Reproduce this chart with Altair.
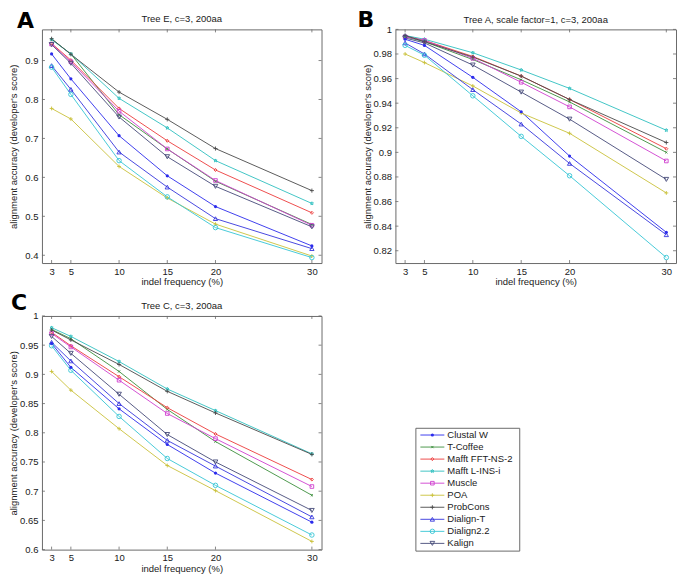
import math
import altair as alt
import pandas as pd

# ---------------- data ----------------
X_VALUES = [3, 5, 10, 15, 20, 30]
SERIES = ["Clustal W", "T-Coffee", "Mafft FFT-NS-2", "Mafft L-INS-i", "Muscle",
          "POA", "ProbCons", "Dialign-T", "Dialign2.2", "Kalign"]

TREE_E = {
    "Clustal W":      [0.917, 0.853, 0.707, 0.604, 0.525, 0.424],
    "T-Coffee":       [0.955, 0.917, 0.761, 0.673, 0.590, 0.479],
    "Mafft FFT-NS-2": [0.944, 0.901, 0.777, 0.694, 0.619, 0.509],
    "Mafft L-INS-i":  [0.954, 0.917, 0.803, 0.727, 0.643, 0.533],
    "Muscle":         [0.942, 0.897, 0.770, 0.673, 0.592, 0.477],
    "POA":            [0.777, 0.750, 0.628, 0.547, 0.480, 0.398],
    "ProbCons":       [0.956, 0.916, 0.819, 0.749, 0.674, 0.566],
    "Dialign-T":      [0.887, 0.826, 0.665, 0.575, 0.494, 0.417],
    "Dialign2.2":     [0.883, 0.813, 0.643, 0.550, 0.471, 0.394],
    "Kalign":         [0.941, 0.893, 0.755, 0.653, 0.577, 0.473],
}
TREE_A = {
    "Clustal W":      [0.992, 0.987, 0.961, 0.933, 0.897, 0.835],
    "T-Coffee":       [0.994, 0.990, 0.9755, 0.959, 0.941, 0.900],
    "Mafft FFT-NS-2": [0.995, 0.991, 0.978, 0.962, 0.943, 0.903],
    "Mafft L-INS-i":  [0.995, 0.992, 0.981, 0.967, 0.952, 0.918],
    "Muscle":         [0.994, 0.991, 0.9765, 0.957, 0.937, 0.893],
    "POA":            [0.980, 0.973, 0.954, 0.932, 0.9155, 0.867],
    "ProbCons":       [0.995, 0.990, 0.9775, 0.962, 0.943, 0.908],
    "Dialign-T":      [0.989, 0.980, 0.951, 0.923, 0.891, 0.833],
    "Dialign2.2":     [0.987, 0.979, 0.946, 0.913, 0.881, 0.8145],
    "Kalign":         [0.993, 0.989, 0.971, 0.949, 0.927, 0.878],
}
TREE_C = {
    "Clustal W":      [0.953, 0.912, 0.841, 0.780, 0.731, 0.647],
    "T-Coffee":       [0.977, 0.961, 0.905, 0.840, 0.785, 0.693],
    "Mafft FFT-NS-2": [0.972, 0.949, 0.896, 0.843, 0.798, 0.720],
    "Mafft L-INS-i":  [0.980, 0.965, 0.922, 0.875, 0.838, 0.764],
    "Muscle":         [0.970, 0.947, 0.890, 0.833, 0.790, 0.708],
    "POA":            [0.905, 0.873, 0.807, 0.744, 0.701, 0.614],
    "ProbCons":       [0.976, 0.959, 0.917, 0.871, 0.834, 0.763],
    "Dialign-T":      [0.955, 0.923, 0.850, 0.787, 0.743, 0.656],
    "Dialign2.2":     [0.949, 0.907, 0.828, 0.756, 0.710, 0.625],
    "Kalign":         [0.965, 0.936, 0.866, 0.797, 0.750, 0.667],
}

Y_TICKS_E = [0.4, 0.5, 0.6, 0.7, 0.8, 0.9]
Y_TICKS_A = [0.82, 0.84, 0.86, 0.88, 0.9, 0.92, 0.94, 0.96, 0.98, 1.0]
Y_TICKS_C = [0.6, 0.65, 0.7, 0.75, 0.8, 0.85, 0.9, 0.95, 1.0]

# ---------------- style ----------------
COLORS = ["#2b2bec", "#3c8f3c", "#ec3b3b", "#2fbfbf", "#cf3fcf",
          "#c9c13a", "#4a4a4a", "#3535dd", "#35c5d5", "#454a78"]


def star_path():
    pts = []
    for i in range(10):
        r = 1.0 if i % 2 == 0 else 0.42
        a = -math.pi / 2 + i * math.pi / 5
        pts.append(f"{r * math.cos(a):.3f},{r * math.sin(a):.3f}")
    return "M" + "L".join(pts) + "Z"


PLUS = "M-1,0L1,0M0,-1L0,1"
XMARK = "M-0.8,-0.8L0.8,0.8M-0.8,0.8L0.8,-0.8"
SHAPES = ["circle", XMARK, "diamond", star_path(), "square", PLUS, PLUS,
          "triangle-up", "circle", "triangle-down"]
SIZES = [6, 22, 30, 45, 22, 8, 22, 28, 28, 28]

FONT = "Liberation Sans"
TXT = "#1a1a1a"
FRAME = "#6a6a6a"
W_A, W_B, H = 280, 281, 234

color_scale = alt.Scale(domain=SERIES, range=COLORS)
shape_scale = alt.Scale(domain=SERIES, range=SHAPES)
size_scale = alt.Scale(domain=SERIES, range=SIZES)


def long_df(values):
    rows = []
    for s in SERIES:
        for x, v in zip(X_VALUES, values[s]):
            rows.append({"method": s, "indel": x, "score": v})
    return pd.DataFrame(rows)


def panel(values, title, letter, ydom, yticks, w, h, ldx, ldy, tdy):
    df = long_df(values)
    xs = alt.Scale(domain=[2, 31], nice=False, zero=False)
    ys = alt.Scale(domain=ydom, nice=False, zero=False)
    x_enc = alt.X("indel:Q", scale=xs,
                  axis=alt.Axis(values=X_VALUES, format="d", labelOverlap=False,
                                title="indel frequency (%)", titlePadding=1,
                                labelPadding=3))
    y_enc = alt.Y("score:Q", scale=ys,
                  axis=alt.Axis(values=yticks, format="~g", labelOverlap=False,
                                title="alignment accuracy (developer's score)",
                                titlePadding=1, labelPadding=4,
                                minExtent=22, maxExtent=22))
    col = alt.Color("method:N", scale=color_scale, legend=None)
    base = alt.Chart(df)
    lines = base.mark_line(strokeWidth=0.9).encode(x=x_enc, y=y_enc, color=col)
    pts = base.transform_filter(alt.datum.method != "Clustal W").mark_point(
        filled=False, strokeWidth=0.9, opacity=1).encode(
        x=x_enc, y=y_enc, color=col,
        shape=alt.Shape("method:N", scale=shape_scale, legend=None),
        size=alt.Size("method:N", scale=size_scale, legend=None))
    dots = base.transform_filter(alt.datum.method == "Clustal W").mark_circle(
        size=10, opacity=1, color=COLORS[0]).encode(x=x_enc, y=y_enc)

    # inward tick marks on all four sides (matlab style)
    ydf = pd.DataFrame({"score": yticks})
    xdf = pd.DataFrame({"indel": X_VALUES})
    tk = dict(color=FRAME, strokeWidth=0.8)
    t_left = alt.Chart(ydf).mark_rule(**tk).encode(
        y=y_enc, x=alt.value(0), x2=alt.value(3))
    t_right = alt.Chart(ydf).mark_rule(**tk).encode(
        y=y_enc, x=alt.value(w - 3), x2=alt.value(w))
    t_bottom = alt.Chart(xdf).mark_rule(**tk).encode(
        x=x_enc, y=alt.value(h - 3), y2=alt.value(h))
    t_top = alt.Chart(xdf).mark_rule(**tk).encode(
        x=x_enc, y=alt.value(0), y2=alt.value(3))

    let = alt.Chart(pd.DataFrame({"t": [letter]})).mark_text(
        align="left", baseline="alphabetic", font="DejaVu Sans",
        fontWeight="bold", fontSize=22, color="black").encode(
        text="t:N", x=alt.value(ldx), y=alt.value(ldy))
    ttl = alt.Chart(pd.DataFrame({"t": [title]})).mark_text(
        align="center", baseline="middle", font=FONT, fontSize=9.5,
        color=TXT).encode(text="t:N", x=alt.value(w / 2), y=alt.value(tdy))

    return alt.layer(lines, pts, dots, t_left, t_right, t_bottom, t_top,
                     let, ttl).properties(width=w, height=h)


pA = panel(TREE_E, "Tree E, c=3, 200aa", "A", [0.38, 0.98], Y_TICKS_E,
           W_A, H, -25, -1, -10)
pB = panel(TREE_A, "Tree A, scale factor=1, c=3, 200aa", "B", [0.81, 1.0], Y_TICKS_A,
           W_B, H, -38, -2, -9.5)
pC = panel(TREE_C, "Tree C, c=3, 200aa", "C", [0.6, 1.0], Y_TICKS_C,
           W_A, H, -31, -6, -10)

# ---------------- legend ----------------
leg_df = pd.DataFrame({"method": SERIES})
leg_y = alt.Y("method:N", axis=None,
              scale=alt.Scale(type="point", domain=SERIES, padding=0.6))
leg_col = alt.Color("method:N", scale=color_scale, legend=None)
lg = alt.Chart(leg_df)
l_line = lg.mark_rule(strokeWidth=0.9).encode(
    y=leg_y, x=alt.value(5), x2=alt.value(29), color=leg_col)
l_pts = lg.transform_filter(alt.datum.method != "Clustal W").mark_point(
    filled=False, strokeWidth=0.9, opacity=1).encode(
    y=leg_y, x=alt.value(17), color=leg_col,
    shape=alt.Shape("method:N", scale=shape_scale, legend=None),
    size=alt.Size("method:N", scale=size_scale, legend=None))
l_dot = lg.transform_filter(alt.datum.method == "Clustal W").mark_circle(
    size=10, opacity=1, color=COLORS[0]).encode(y=leg_y, x=alt.value(17))
l_txt = lg.mark_text(align="left", baseline="middle", font=FONT, fontSize=9.5,
                     color=TXT).encode(y=leg_y, x=alt.value(32), text="method:N")
legend = alt.layer(l_line, l_pts, l_dot, l_txt).properties(width=104, height=123)

spacer = alt.Chart(pd.DataFrame({"v": [0]})).mark_point(opacity=0, size=0).encode(
    x=alt.X("v:Q", axis=None), y=alt.Y("v:Q", axis=None)).properties(
    width=104, height=111, view=alt.ViewBackground(strokeOpacity=0))

legend_col = alt.vconcat(spacer, legend, spacing=0)

row1 = alt.hconcat(pA, pB, spacing=34)
row2 = alt.hconcat(pC, legend_col, spacing=92)

chart = alt.vconcat(row1, row2, spacing=4).properties(padding=0).configure_view(
    stroke=FRAME, strokeWidth=1).configure_axis(
    domain=False, ticks=False, grid=False, labelOverlap=False, labelFlush=False,
    labelFont=FONT, labelFontSize=9.5, labelColor=TXT,
    titleFont=FONT, titleFontSize=9.5, titleFontWeight="normal", titleColor=TXT)

chart.save("out.html", embed_options={"renderer": "svg", "actions": False})
